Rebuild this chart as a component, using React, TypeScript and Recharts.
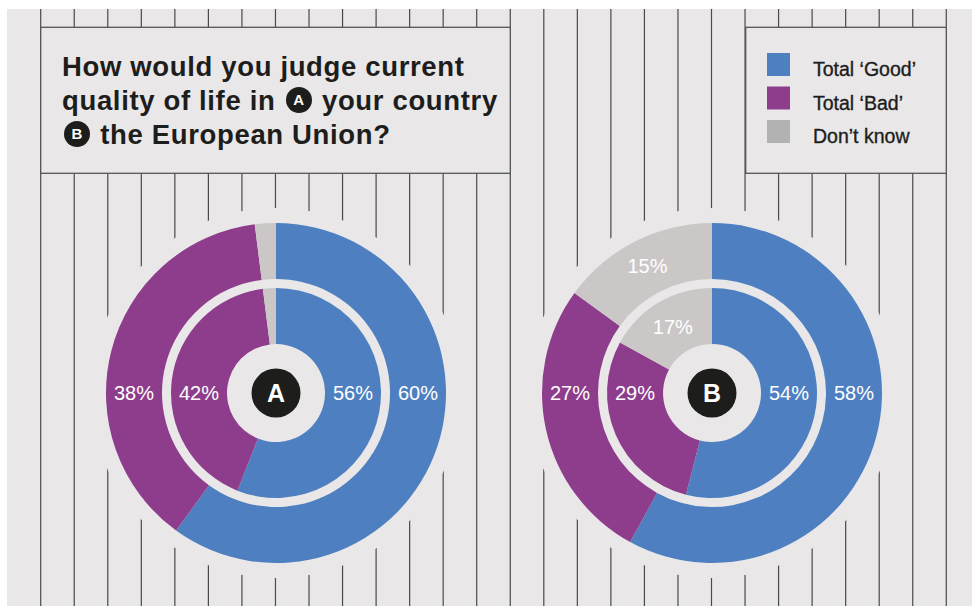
import React from "react";
import { PieChart, Pie, Cell } from "recharts";

// answers, in percent, clockwise from 12 o'clock
const categories = ["Total ‘Good’", "Total ‘Bad’", "Don’t know"];
const countryOuter = [60, 38, 2];
const countryInner = [56, 42, 2];
const euOuter = [58, 27, 15];
const euInner = [54, 29, 17];

const pieColors = ["#4e80c1", "#8e3d8c", "#cac7c6"];
const legendColors = ["#4e80c1", "#8e3d8c", "#b2b2b2"];

const BG = "#e9e7e8";
const INK = "#1d1d1b";
const FONT = "'Liberation Sans', Arial, Helvetica, sans-serif";

const toRows = (values: number[]) =>
  categories.map((name, i) => ({ name, value: values[i] }));

const renderLabel = (props: any) => {
  const { cx, cy, midAngle, innerRadius, outerRadius, index, value } = props;
  const r = (innerRadius + outerRadius) / 2;
  let x = cx;
  let y = cy;
  if (index === 0) {
    x = cx + r;
  } else if (index === 1) {
    x = cx - r;
  } else {
    if (value < 5) return <g />;
    const rad = (-midAngle * Math.PI) / 180;
    x = cx + r * Math.cos(rad);
    y = cy + r * Math.sin(rad);
  }
  return (
    <text
      x={x}
      y={y}
      fill="#fff"
      textAnchor="middle"
      dominantBaseline="central"
      fontFamily={FONT}
      fontSize={20}
    >
      {value}%
    </text>
  );
};

const donuts = [
  { key: "A", cx: 276, outer: countryOuter, inner: countryInner },
  { key: "B", cx: 712, outer: euOuter, inner: euInner },
];
const CY = 393;

const Badge = ({ letter }: { letter: string }) => (
  <span
    style={{
      display: "inline-block",
      width: 26,
      height: 26,
      borderRadius: "50%",
      background: INK,
      color: "#fff",
      fontSize: 15,
      lineHeight: "26px",
      textAlign: "center",
      verticalAlign: "middle",
      letterSpacing: 0,
      margin: "0 2px",
      position: "relative",
      top: -2,
    }}
  >
    {letter}
  </span>
);

export default function App() {
  const stripes = Array.from({ length: 28 }, (_, k) => 40.7 + k * 33.54);

  return (
    <div
      style={{
        position: "absolute",
        left: 0,
        top: 0,
        width: 972,
        height: 606,
        background: "#fff",
        overflow: "hidden",
      }}
    >
      <svg width={972} height={606} style={{ position: "absolute", left: 0, top: 0 }}>
        <rect x={7} y={9} width={965} height={597} fill={BG} />
        {stripes.map((x) => (
          <line key={x} x1={x} x2={x} y1={9} y2={606} stroke="#4a4a4a" strokeWidth={1.2} />
        ))}
        <rect x={40.7} y={27.3} width={469.6} height={146} fill={BG} stroke="#555" strokeWidth={1.3} />
        <rect x={745.7} y={27.3} width={200.6} height={146} fill={BG} stroke="#555" strokeWidth={1.3} />
        {donuts.map((d) => (
          <circle key={d.key} cx={d.cx} cy={CY} r={185} fill={BG} />
        ))}
        {categories.map((c, i) => (
          <g key={c}>
            <rect x={767} y={53 + i * 33.5} width={23} height={23} fill={legendColors[i]} />
            <text
              x={813}
              y={76 + i * 33.5}
              fontFamily={FONT}
              fontSize={19.5}
              fill={INK}
              stroke={INK}
              strokeWidth={0.35}
            >
              {c}
            </text>
          </g>
        ))}
        {donuts.map((d) => (
          <g key={d.key}>
            <circle cx={d.cx} cy={CY} r={24.5} fill={INK} />
            <text
              x={d.cx}
              y={CY}
              textAnchor="middle"
              dominantBaseline="central"
              fontFamily={FONT}
              fontWeight="bold"
              fontSize={25}
              fill="#fff"
            >
              {d.key}
            </text>
          </g>
        ))}
      </svg>

      <div
        style={{
          position: "absolute",
          left: 62,
          top: 49.5,
          fontFamily: FONT,
          fontWeight: "bold",
          fontSize: 27.5,
          lineHeight: "34px",
          letterSpacing: 0.65,
          color: INK,
          whiteSpace: "nowrap",
        }}
      >
        How would you judge current
        <br />
        quality of life in <Badge letter="A" /> your country
        <br />
        <Badge letter="B" /> the European Union?
      </div>

      <div style={{ position: "absolute", left: 0, top: 0 }}>
        <PieChart width={972} height={606} margin={{ top: 0, right: 0, bottom: 0, left: 0 }}>
          {donuts.map((d) => [
            <Pie
              key={d.key + "o"}
              data={toRows(d.outer)}
              dataKey="value"
              cx={d.cx}
              cy={CY}
              innerRadius={114}
              outerRadius={170}
              startAngle={90}
              endAngle={-270}
              stroke="none"
              label={renderLabel}
              labelLine={false}
              isAnimationActive={false}
            >
              {d.outer.map((_, i) => (
                <Cell key={i} fill={pieColors[i]} />
              ))}
            </Pie>,
            <Pie
              key={d.key + "i"}
              data={toRows(d.inner)}
              dataKey="value"
              cx={d.cx}
              cy={CY}
              innerRadius={49}
              outerRadius={105}
              startAngle={90}
              endAngle={-270}
              stroke="none"
              label={renderLabel}
              labelLine={false}
              isAnimationActive={false}
            >
              {d.inner.map((_, i) => (
                <Cell key={i} fill={pieColors[i]} />
              ))}
            </Pie>,
          ])}
        </PieChart>
      </div>
    </div>
  );
}
